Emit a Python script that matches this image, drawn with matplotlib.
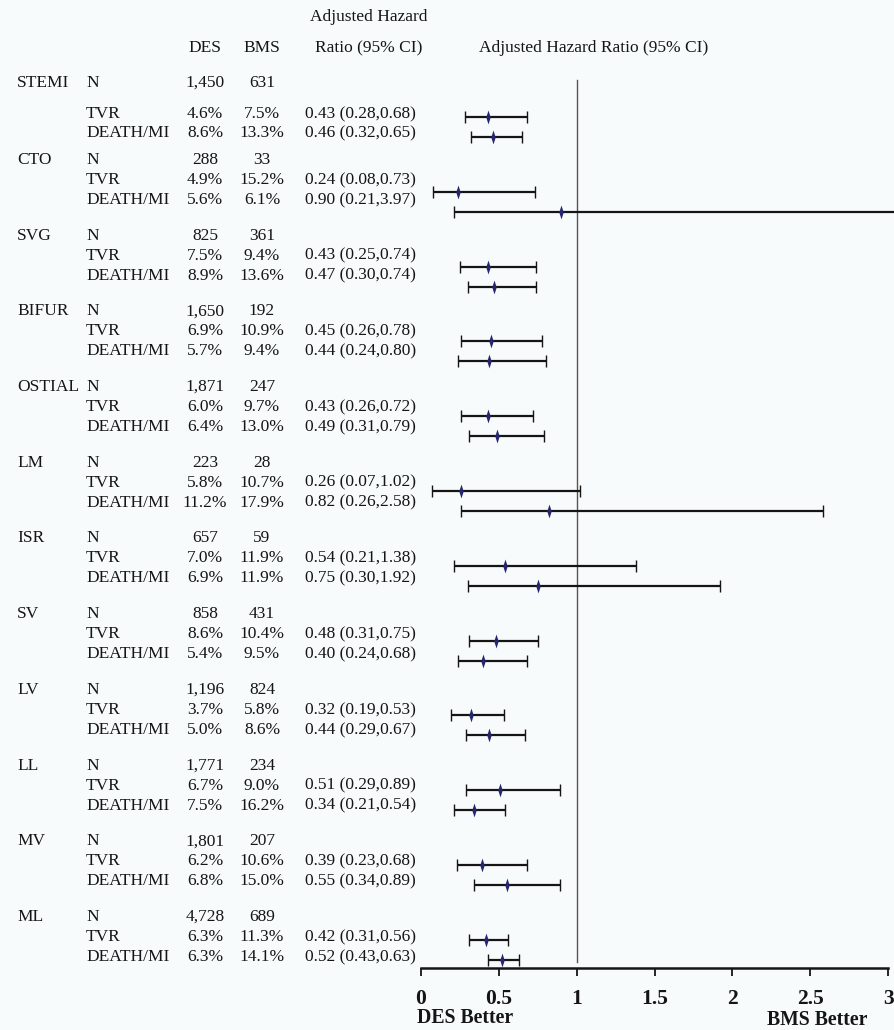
import matplotlib
matplotlib.use("Agg")
import matplotlib.pyplot as plt
from matplotlib.path import Path

# ---- data -------------------------------------------------------------
groups = ["STEMI", "CTO", "SVG", "BIFUR", "OSTIAL", "LM", "ISR", "SV", "LV", "LL", "MV", "ML"]
n_des = [1450, 288, 825, 1650, 1871, 223, 657, 858, 1196, 1771, 1801, 4728]
n_bms = [631, 33, 361, 192, 247, 28, 59, 431, 824, 234, 207, 689]

tvr_des = [4.6, 4.9, 7.5, 6.9, 6.0, 5.8, 7.0, 8.6, 3.7, 6.7, 6.2, 6.3]
tvr_bms = [7.5, 15.2, 9.4, 10.9, 9.7, 10.7, 11.9, 10.4, 5.8, 9.0, 10.6, 11.3]
tvr_hr = [0.43, 0.24, 0.43, 0.45, 0.43, 0.26, 0.54, 0.48, 0.32, 0.51, 0.39, 0.42]
tvr_lo = [0.28, 0.08, 0.25, 0.26, 0.26, 0.07, 0.21, 0.31, 0.19, 0.29, 0.23, 0.31]
tvr_hi = [0.68, 0.73, 0.74, 0.78, 0.72, 1.02, 1.38, 0.75, 0.53, 0.89, 0.68, 0.56]

dm_des = [8.6, 5.6, 8.9, 5.7, 6.4, 11.2, 6.9, 5.4, 5.0, 7.5, 6.8, 6.3]
dm_bms = [13.3, 6.1, 13.6, 9.4, 13.0, 17.9, 11.9, 9.5, 8.6, 16.2, 15.0, 14.1]
dm_hr = [0.46, 0.90, 0.47, 0.44, 0.49, 0.82, 0.75, 0.40, 0.44, 0.34, 0.55, 0.52]
dm_lo = [0.32, 0.21, 0.30, 0.24, 0.31, 0.26, 0.30, 0.24, 0.29, 0.21, 0.34, 0.43]
dm_hi = [0.65, 3.97, 0.74, 0.80, 0.79, 2.58, 1.92, 0.68, 0.67, 0.54, 0.89, 0.63]

outcomes = ["TVR", "DEATH/MI"]
x_ticks = [0, 0.5, 1, 1.5, 2, 2.5, 3]
x_ticklabels = ["0", "0.5", "1", "1.5", "2", "2.5", "3"]

# ---- layout (pixel units, y measured from the top) ----------------------
W, H = 894, 1030
BG = "#f8fbfb"
TXT = "#151515"
FONT = "Liberation Serif"
FS = 12.5

fig = plt.figure(figsize=(W / 100, H / 100), dpi=100, facecolor=BG)

# overlay axes in pixel coordinates for the table text
tab = fig.add_axes([0, 0, 1, 1])
tab.set_xlim(0, W)
tab.set_ylim(H, 0)
tab.axis("off")
tab.patch.set_alpha(0)

# forest-plot axes
x0_px, x1_px = 421, 888
ytop_px, ybot_px = 60, 968
ax = fig.add_axes([x0_px / W, 1 - ybot_px / H, (x1_px - x0_px) / W, (ybot_px - ytop_px) / H])
ax.set_facecolor("none")
ax.set_xlim(0, 3)
ax.set_ylim(ybot_px, ytop_px)

col_group, col_metric, col_des, col_bms, col_hr = 17, 86, 205, 262, 305
group_step = 75.7
row_step = 20


def txt(x, y, s, ha="left", **kw):
    tab.text(x, y, s, ha=ha, va="center", fontsize=FS, family=FONT, color=TXT, **kw)


# headers
txt(369, 17, "Adjusted Hazard", ha="center")
txt(col_des, 48, "DES", ha="center")
txt(col_bms, 48, "BMS", ha="center")
txt(369, 48, "Ratio (95% CI)", ha="center")
txt(594, 48, "Adjusted Hazard Ratio (95% CI)", ha="center")

for i, g in enumerate(groups):
    if i == 0:
        y_n, y_t, y_d = 83, 114, 133
    else:
        y_n = 160 + (i - 1) * group_step
        y_t, y_d = y_n + row_step, y_n + 2 * row_step
    txt(col_group, y_n, g)
    txt(col_metric, y_n, "N")
    txt(col_des, y_n, f"{n_des[i]:,}", ha="center")
    txt(col_bms, y_n, f"{n_bms[i]:,}", ha="center")

    txt(col_metric, y_t, outcomes[0])
    txt(col_des, y_t, f"{tvr_des[i]:.1f}%", ha="center")
    txt(col_bms, y_t, f"{tvr_bms[i]:.1f}%", ha="center")
    txt(col_hr, y_t, f"{tvr_hr[i]:.2f} ({tvr_lo[i]:.2f},{tvr_hi[i]:.2f})")

    txt(col_metric, y_d, outcomes[1])
    txt(col_des, y_d, f"{dm_des[i]:.1f}%", ha="center")
    txt(col_bms, y_d, f"{dm_bms[i]:.1f}%", ha="center")
    txt(col_hr, y_d, f"{dm_hr[i]:.2f} ({dm_lo[i]:.2f},{dm_hi[i]:.2f})")

# ---- forest plot ----------------------------------------------------------
diamond = Path([(0, -1), (0.32, 0), (0, 1), (-0.32, 0), (0, -1)],
               [Path.MOVETO, Path.LINETO, Path.LINETO, Path.LINETO, Path.CLOSEPOLY])

ax.plot([1, 1], [80, 962], color="#555555", lw=1.0, zorder=1)

for i in range(len(groups)):
    y_t = 117 + i * 74.8
    y_d = y_t + row_step
    for y, hr, lo, hi in ((y_t, tvr_hr[i], tvr_lo[i], tvr_hi[i]),
                          (y_d, dm_hr[i], dm_lo[i], dm_hi[i])):
        eb = ax.errorbar([hr], [y], xerr=[[hr - lo], [hi - hr]], fmt="none",
                         ecolor="#151515", elinewidth=1.6, capsize=4.5, capthick=1.0,
                         zorder=2)
        for artist in eb.lines[1] + eb.lines[2]:
            artist.set_clip_on(False)
        ax.plot([hr], [y], marker=diamond, markersize=10, color="#26266e",
                markeredgewidth=0, linestyle="none", zorder=3, clip_on=False)

for side in ("top", "right", "left"):
    ax.spines[side].set_visible(False)
ax.spines["bottom"].set_linewidth(1.8)
ax.spines["bottom"].set_color("#151515")
ax.set_yticks([])
ax.set_xticks(x_ticks)
ax.set_xticklabels(x_ticklabels)
ax.tick_params(axis="x", direction="out", length=6, width=1.3, color="#151515", pad=9)
for lab in ax.get_xticklabels():
    lab.set_fontfamily(FONT)
    lab.set_fontsize(15.5)
    lab.set_fontweight("bold")
    lab.set_color(TXT)

tab.text(417, 1018, "DES Better", ha="left", va="center", fontsize=14.2,
         family=FONT, fontweight="bold", color=TXT)
tab.text(767, 1020, "BMS Better", ha="left", va="center", fontsize=14.2,
         family=FONT, fontweight="bold", color=TXT)

fig.savefig("out.png", dpi=100, facecolor=BG)
